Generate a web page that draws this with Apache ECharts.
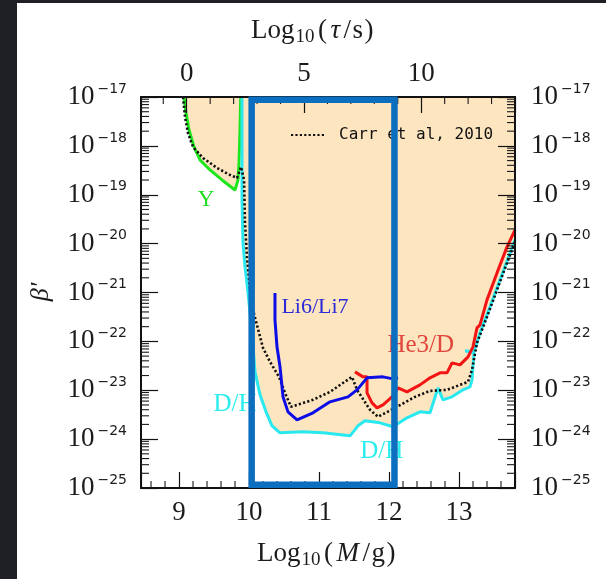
<!DOCTYPE html>
<html>
<head>
<meta charset="utf-8">
<script src="https://cdn.jsdelivr.net/npm/echarts@6.0.0/dist/echarts.min.js"></script>
<style>
html,body{margin:0;padding:0;background:#ffffff;}
#chart{width:606px;height:579px;}
</style>
</head>
<body>
<div id="chart"></div>
<script>
// ---------- data: x = log10(M/g), y = log10(beta') ----------
const yLimit = [[9.071,-17.000],[9.100,-17.327],[9.143,-17.675],[9.214,-18.022],[9.300,-18.288],[9.443,-18.493],[9.614,-18.697],[9.800,-18.902],[9.843,-18.697],[9.857,-18.350],[9.871,-17.675],[9.881,-17.000]];
const dhLimit = [[9.900,-17.000],[9.900,-19.106],[9.914,-19.986],[9.943,-20.476],[9.986,-21.008],[10.043,-21.826],[10.086,-22.624],[10.157,-23.094],[10.243,-23.442],[10.329,-23.728],[10.443,-23.871],[10.771,-23.851],[11.057,-23.871],[11.443,-23.933],[11.557,-23.728],[11.657,-23.626],[11.871,-23.667],[12.057,-23.748],[12.257,-23.564],[12.443,-23.442],[12.586,-23.462],[12.700,-22.951],[12.771,-23.196],[12.900,-23.135],[13.057,-22.992],[13.157,-22.930],[13.186,-22.787],[13.214,-22.235],[13.086,-22.194],[13.214,-22.215],[13.300,-21.826],[13.443,-21.294],[13.586,-20.742],[13.729,-20.190],[13.800,-19.924]];
const he3Limit = [[11.514,-22.624],[11.629,-22.726],[11.686,-22.726],[11.686,-23.053],[11.757,-23.258],[11.829,-23.360],[11.914,-23.299],[12.043,-23.135],[12.129,-22.951],[12.257,-23.033],[12.443,-22.890],[12.586,-22.746],[12.729,-22.644],[12.829,-22.644],[12.900,-22.440],[13.014,-22.481],[13.129,-22.317],[13.200,-22.112],[13.257,-21.724],[13.300,-21.663],[13.400,-21.151],[13.543,-20.599],[13.686,-20.067],[13.800,-19.720]];
const liLimit = [[10.371,-21.008],[10.371,-21.560],[10.400,-22.112],[10.443,-22.521],[10.486,-23.135],[10.557,-23.442],[10.686,-23.605],[10.914,-23.462],[11.157,-23.237],[11.414,-23.135],[11.543,-22.992],[11.686,-22.746],[11.914,-22.726],[12.057,-22.767],[12.129,-22.746]];
const carr2010 = [[9.057,-17.000],[9.086,-17.409],[9.128,-17.736],[9.200,-18.022],[9.343,-18.247],[9.543,-18.452],[9.729,-18.595],[9.829,-18.656],[9.886,-18.431],[9.929,-18.697],[9.943,-19.577],[9.971,-20.272],[10.014,-20.926],[10.057,-21.356],[10.200,-22.133],[10.300,-22.419],[10.429,-22.726],[10.514,-23.053],[10.600,-23.339],[10.914,-23.196],[11.157,-23.033],[11.471,-22.726],[11.543,-22.992],[11.729,-23.401],[11.843,-23.544],[12.114,-23.339],[12.371,-23.135],[12.586,-23.013],[12.829,-22.992],[13.129,-22.828],[13.186,-22.583],[13.257,-22.031],[13.400,-21.499],[13.543,-20.947],[13.686,-20.395],[13.800,-19.965]];
// highlighted window (log10 M range, log10 beta range)
const windowM = [10.038, 12.078];
const windowB = [-24.935, -17.055];
// curve labels
const labelText = ['Y', 'Li6/Li7', 'He3/D', 'D/H', 'D/H'];
const labelAt = [[9.386,-19.106],[10.943,-21.294],[12.453,-22.092],[9.800,-23.299],[11.896,-24.253]];
// axes
const decades = [-25,-24,-23,-22,-21,-20,-19,-18,-17];
const minorMult = [2,3,4,5,6,7,8,9];
const massTicks = [8,9,10,11,12,13];
const massMinorSteps = [0.2,0.4,0.6,0.8];
const tauMinor = [-1,1,2,3,4,6,7,8,9,11,12,13];
const X_MIN = 8.457, X_MAX = 13.8;
const TAU_MIN = -1.95, TAU_MAX = 14;

// ---------- layout & styles ----------
const W = 606, H = 579;
const GRID = {left: 141, right: 91, top: 97, bottom: 91};
const plotW = W - GRID.left - GRID.right, plotH = H - GRID.top - GRID.bottom;
const SERIF = 'Liberation Serif';
const INK = '#1c1c1c';
const SHADE = '#fde5bf';
const C_GREEN = '#1de61d', C_CYAN = '#2ae8ef', C_RED = '#f31414', C_BLUE = '#0d0de6', C_BOX = '#0c6ebe';
const labelColor = ['#22dd22', '#2a2ad6', '#e0463c', '#2aeeee', '#2aeeee'];
const labelSize = [23, 22, 25, 25, 25];
// tick lengths in pixels, turned into axis units
const MINOR_Y_PX = 8, MINOR_X_PX = 7;
const dM = MINOR_Y_PX * (X_MAX - X_MIN) / plotW;
const dB = MINOR_X_PX * 8 / plotH;

// minor tick segments as tiny line series
const tickSeriesList = [];
function tickSeg(a, b, xAxisIndex) {
  tickSeriesList.push({
    type: 'line', data: [a, b], xAxisIndex: xAxisIndex, yAxisIndex: 0,
    symbol: 'none', silent: true, z: 7, clip: false, animation: false,
    lineStyle: {color: '#1a1a1a', width: 1.1}
  });
}
for (let a = 0; a < decades.length - 1; a++) {
  for (let b = 0; b < minorMult.length; b++) {
    const v = decades[a] + Math.log(minorMult[b]) / Math.LN10;
    tickSeg([X_MIN, v], [X_MIN + dM, v], 0);
    tickSeg([X_MAX - dM, v], [X_MAX, v], 0);
  }
}
massTicks.forEach(n => massMinorSteps.forEach(s => {
  const m = n + s;
  if (m > X_MIN && m < X_MAX) tickSeg([m, -25], [m, -25 + dB], 0);
}));
tauMinor.forEach(t => tickSeg([t, -17], [t, -17 - dB], 1));

const shadeOutline = [...yLimit, ...dhLimit, [X_MAX, -17]];
const windowPath = [[windowM[0],windowB[0]],[windowM[1],windowB[0]],[windowM[1],windowB[1]],[windowM[0],windowB[1]],[windowM[0],windowB[0]]];

const chart = echarts.init(document.getElementById('chart'), null, {renderer: 'canvas'});

const yLabelRich = {
  b: {fontFamily: SERIF, fontSize: 27, lineHeight: 30, color: INK},
  s: {fontFamily: 'DejaVu Sans', fontSize: 14, lineHeight: 22, verticalAlign: 'top', color: INK, padding: [0,0,0,3]}
};
const yFmt = v => '{b|10}{s|\u2212' + Math.round(-v) + '}';

function yAxisDef(pos, margin) {
  return {
    type: 'value', position: pos, min: -25, max: -17, interval: 1, z: 5,
    axisLine: {show: true, onZero: false, lineStyle: {color: '#111', width: 2}},
    axisTick: {inside: true, length: 17, lineStyle: {color: '#111', width: 1.2}},
    splitLine: {show: false},
    axisLabel: {margin: margin, formatter: yFmt, rich: yLabelRich}
  };
}

function lineSeries(name, data, color, width, type, z) {
  return {
    type: 'line', name: name, data: data, symbol: 'none', silent: true, z: z,
    lineStyle: {color: color, width: width, type: type || 'solid'},
    itemStyle: {color: color}
  };
}

const titleRich = {
  a: {fontFamily: SERIF, fontSize: 27, lineHeight: 32, fill: INK, color: INK},
  p: {fontFamily: SERIF, fontSize: 27, lineHeight: 32, fill: INK, color: INK, padding: [0,1.5,0,1.5]},
  i: {fontFamily: SERIF, fontStyle: 'italic', fontSize: 27, lineHeight: 32, fill: INK, color: INK, padding: [0,2,0,2]},
  s: {fontFamily: SERIF, fontSize: 19, lineHeight: 14, verticalAlign: 'bottom', fill: INK, color: INK, padding: [0,2,0,1]}
};

const option = {
  animation: false,
  backgroundColor: '#ffffff',
  grid: {left: GRID.left, right: GRID.right, top: GRID.top, bottom: GRID.bottom, show: false},
  legend: {
    data: ['Carr et al, 2010'], left: 285, top: 122, z: 6, selectedMode: false,
    itemWidth: 35, itemHeight: 14, itemGap: 0,
    itemStyle: {opacity: 0},
    textStyle: {fontFamily: 'DejaVu Sans Mono', fontSize: 16, color: '#111', padding: [0,0,0,8]}
  },
  xAxis: [
    {
      type: 'value', position: 'bottom', min: X_MIN, max: X_MAX, splitNumber: 5, z: 5,
      axisLine: {onZero: false, lineStyle: {color: '#111', width: 2}},
      axisTick: {inside: true, length: 16, lineStyle: {color: '#111', width: 1.2}},
      minorTick: {show: false},
      splitLine: {show: false}, minorSplitLine: {show: false},
      axisLabel: {margin: 11, color: INK, fontFamily: SERIF, fontSize: 27,
        formatter: v => (Math.abs(v - Math.round(v)) < 1e-6 ? String(Math.round(v)) : '')}
    },
    {
      type: 'value', position: 'top', min: TAU_MIN, max: TAU_MAX, splitNumber: 3, z: 5,
      axisLine: {onZero: false, lineStyle: {color: '#111', width: 2}},
      axisTick: {inside: true, length: 16, lineStyle: {color: '#111', width: 1.2}},
      minorTick: {show: false},
      splitLine: {show: false}, minorSplitLine: {show: false},
      axisLabel: {margin: 10, color: INK, fontFamily: SERIF, fontSize: 27,
        formatter: v => (Math.abs(v / 5 - Math.round(v / 5)) < 1e-6 ? String(Math.round(v)) : '')}
    }
  ],
  yAxis: [yAxisDef('left', 14), yAxisDef('right', 16)],
  graphic: [
    {type: 'rect', left: 0, top: 0, z: 100, shape: {width: 17, height: 579}, style: {fill: '#1f2023'}},
    {type: 'rect', left: 0, top: 0, z: 100, shape: {width: 606, height: 3}, style: {fill: '#1f2023'}},
    {type: 'text', x: 313, y: 31, z: 20, style: {
      text: '{a|Log}{s|10}{p|(}{i|\u03c4}{p|/}{a|s}{p|)}', align: 'center', verticalAlign: 'middle', rich: titleRich}},
    {type: 'text', x: 327, y: 554, z: 20, style: {
      text: '{a|Log}{s|10}{p|(}{i|M}{p|/}{a|g}{p|)}', align: 'center', verticalAlign: 'middle', rich: titleRich}},
    {type: 'text', x: 41, y: 292, rotation: Math.PI / 2, z: 20, style: {
      text: "\u03b2'", align: 'center', verticalAlign: 'middle',
      font: 'italic 26px "Liberation Serif"', fill: INK}}
  ],
  series: [
    {
      type: 'custom', name: 'excluded', coordinateSystem: 'cartesian2d', silent: true, z: 1,
      data: [[X_MIN, -17]],
      renderItem: (params, api) => ({
        type: 'polygon',
        shape: {points: shadeOutline.map(p => api.coord(p))},
        style: {fill: SHADE}
      })
    },
    lineSeries('Y', yLimit, C_GREEN, 3, 'solid', 2),
    lineSeries('D/H', dhLimit, C_CYAN, 3, 'solid', 2),
    lineSeries('Carr et al, 2010', carr2010, '#111111', 2.6, [2.2, 2.2], 3),
    lineSeries('He3/D', he3Limit, C_RED, 3, 'solid', 3),
    lineSeries('Li6/Li7', liLimit, C_BLUE, 3, 'solid', 3),
    ...tickSeriesList,
    {
      type: 'custom', name: 'labels', coordinateSystem: 'cartesian2d', silent: true, z: 6,
      data: labelAt.map((p, i) => [p[0], p[1], i]),
      renderItem: (params, api) => {
        const i = api.value(2);
        const c = api.coord([api.value(0), api.value(1)]);
        return {type: 'text', x: c[0], y: c[1], style: {
          text: labelText[i], fill: labelColor[i],
          font: labelSize[i] + 'px "Liberation Serif"', align: 'center', verticalAlign: 'middle'}};
      }
    },
    {
      type: 'line', name: 'window', data: windowPath, symbol: 'none', silent: true, z: 10, clip: false,
      lineStyle: {color: C_BOX, width: 6.5, join: 'miter', cap: 'square'}
    }
  ]
};
chart.setOption(option);
</script>
</body>
</html>
